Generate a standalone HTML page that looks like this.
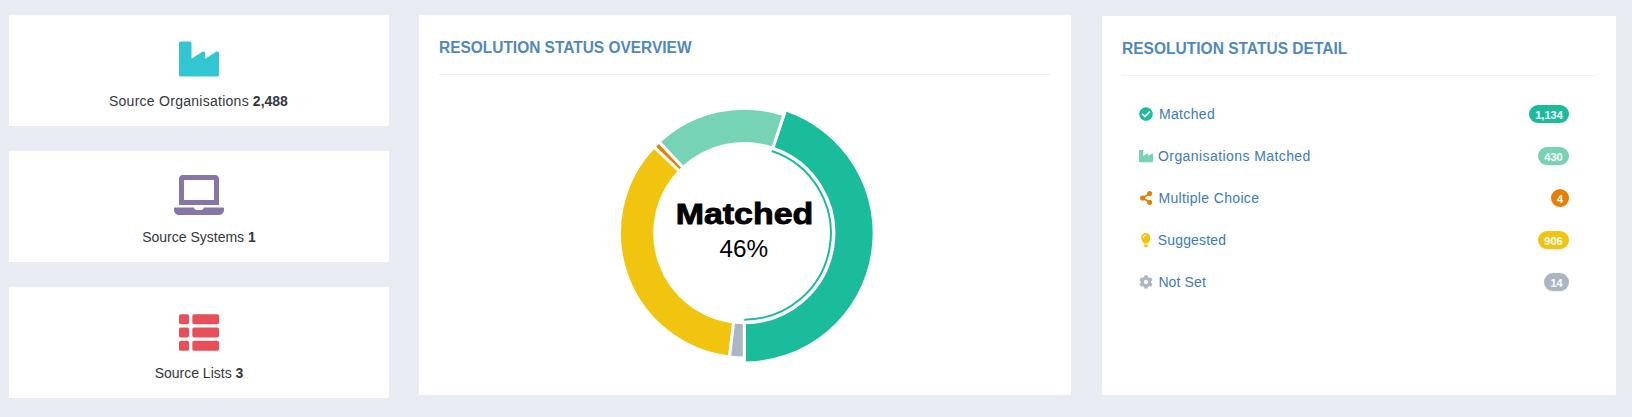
<!DOCTYPE html>
<html lang="en">
<head>
<meta charset="utf-8">
<title>Resolution Status</title>
<style>
html,body{margin:0;padding:0;}
body{width:1632px;height:417px;overflow:hidden;background:#e9ecf3;position:relative;
  font-family:"Liberation Sans",sans-serif;font-size:14px;color:#333;}
.card,.panel{position:absolute;background:#fff;}
.card{left:9px;width:380px;height:111px;}
.card .lbl{position:absolute;left:0;width:380px;top:76px;text-align:center;line-height:20px;font-size:14px;color:#34383c;white-space:nowrap;}
.card .lbl span{display:inline-block;}
.card .lbl b{font-weight:700;}
.card svg{position:absolute;}
.ttl{position:absolute;font-weight:700;font-size:16px;line-height:18px;color:#4f89bc;white-space:nowrap;transform-origin:0 50%;}
.hr{position:absolute;height:1px;background:#eef1f5;}
.row{position:absolute;left:1139px;width:430px;height:20px;line-height:20px;color:#3b7bbd;white-space:nowrap;}
.row svg{position:absolute;left:0;top:3px;}
.row .t{position:absolute;left:20px;top:0;}
.badge{position:absolute;right:0;top:1px;height:18px;line-height:20px;box-shadow:0 1px 1px rgba(120,90,90,0.12);border-radius:9px;color:#fff;font-size:11px;font-weight:700;text-align:center;}
#chart{position:absolute;left:0;top:0;}
</style>
</head>
<body>

<div class="card" style="top:15px">
  <svg style="left:170px;top:24px" width="40" height="40" viewBox="0 0 512 512"><path fill="#32c5d2" d="M475.115 163.781L336 252.309v-68.28c0-18.916-20.931-30.399-36.885-20.248L160 252.309V56c0-13.255-10.745-24-24-24H24C10.745 32 0 42.745 0 56v400c0 13.255 10.745 24 24 24h464c13.255 0 24-10.745 24-24V184.029c0-18.917-20.931-30.399-36.885-20.248z"/></svg>
  <div class="lbl" style="left:-0.6px"><span style="letter-spacing:0.27px">Source Organisations</span> <b>2,488</b></div>
</div>

<div class="card" style="top:151px">
  <svg style="left:165px;top:24px" width="50" height="40" viewBox="0 0 640 512"><path fill="#8775a7" d="M624 416H381.54c-.74 19.81-14.71 32-32.74 32H288c-18.69 0-33.02-17.47-32.77-32H16c-8.8 0-16 7.2-16 16v16c0 35.2 28.8 64 64 64h512c35.2 0 64-28.800 64-64v-16c0-8.800-7.200-16-16-16zM576 48c0-26.400-21.600-48-48-48H112C85.600 0 64 21.600 64 48v336h512V48zm-64 272H128V64h384v256z"/></svg>
  <div class="lbl"><span>Source Systems</span> <b>1</b></div>
</div>

<div class="card" style="top:287px">
  <svg style="left:170px;top:27px" width="40" height="37" viewBox="0 0 1200 1100"><g fill="#e7505a">
    <rect x="0" y="0" width="300" height="300" rx="50"/><rect x="400" y="0" width="800" height="300" rx="50"/>
    <rect x="0" y="400" width="300" height="300" rx="50"/><rect x="400" y="400" width="800" height="300" rx="50"/>
    <rect x="0" y="800" width="300" height="300" rx="50"/><rect x="400" y="800" width="800" height="300" rx="50"/>
  </g></svg>
  <div class="lbl"><span>Source Lists</span> <b>3</b></div>
</div>

<div class="panel" style="left:419px;top:15px;width:652px;height:380px"></div>
<div class="ttl" style="left:439px;top:39px;transform:scaleX(0.966)" id="t1">RESOLUTION STATUS OVERVIEW</div>
<div class="hr" style="left:439px;top:74px;width:612px;background:#eeeeee"></div>

<svg id="chart" width="1632" height="417" viewBox="0 0 1632 417">
<path d="M744.30,319.68A86.58,86.58,0,0,0,771.77,150.99" fill="none" stroke="#1BBC9B" stroke-width="2"/>
<path d="M744.30,322.68A89.58,89.58,0,0,0,772.72,148.15L785.51,109.94A129.87,129.87,0,0,1,744.30,362.97Z" fill="#1BBC9B" stroke="#ffffff" stroke-width="3"/>
<path d="M772.72,148.15A89.58,89.58,0,0,0,683.09,167.69L658.98,141.92A124.87,124.87,0,0,1,783.92,114.68Z" fill="#77D3B5" stroke="#ffffff" stroke-width="3"/>
<path d="M683.09,167.69A89.58,89.58,0,0,0,679.48,171.27L653.95,146.91A124.87,124.87,0,0,1,658.98,141.92Z" fill="#E87E04" stroke="#ffffff" stroke-width="3"/>
<path d="M679.48,171.27A89.58,89.58,0,0,0,733.66,322.05L729.47,357.09A124.87,124.87,0,0,1,653.95,146.91Z" fill="#F1C40F" stroke="#ffffff" stroke-width="3"/>
<path d="M733.66,322.05A89.58,89.58,0,0,0,744.27,322.68L744.26,357.97A124.87,124.87,0,0,1,729.47,357.09Z" fill="#ACB5C3" stroke="#ffffff" stroke-width="3"/>
<text id="c1" x="744.5" y="223.7" text-anchor="middle" font-family="Liberation Sans, sans-serif" font-weight="700" font-size="30.2" fill="#000" stroke="#000" stroke-width="0.9" textLength="137.6" lengthAdjust="spacingAndGlyphs">Matched</text>
<text id="c2" x="743.7" y="257.1" text-anchor="middle" font-family="Liberation Sans, sans-serif" font-size="24.3" fill="#000">46%</text>
</svg>

<div class="panel" style="left:1102px;top:16px;width:514px;height:379px"></div>
<div class="ttl" style="left:1122.4px;top:40px;transform:scaleX(0.971)" id="t2">RESOLUTION STATUS DETAIL</div>
<div class="hr" style="left:1122px;top:75px;width:474px"></div>

<div class="row" style="top:104px">
  <svg width="14" height="14" viewBox="0 0 512 512"><path fill="#1BBC9B" d="M504 256c0 136.967-111.033 248-248 248S8 392.967 8 256 119.033 8 256 8s248 111.033 248 248zM227.314 387.314l184-184c6.248-6.248 6.248-16.379 0-22.627l-22.627-22.627c-6.248-6.249-16.379-6.249-22.628 0L216 308.118l-70.059-70.059c-6.248-6.248-16.379-6.248-22.628 0l-22.627 22.627c-6.248 6.248-6.248 16.379 0 22.627l104 104c6.249 6.249 16.379 6.249 22.628.001z"/></svg>
  <span class="t" style="left:20px;letter-spacing:0.33px">Matched</span><span class="badge" style="width:40px;background:#1BBC9B">1,134</span>
</div>
<div class="row" style="top:146px">
  <svg width="14" height="14" viewBox="0 0 512 512"><path fill="#77D3B5" d="M475.115 163.781L336 252.309v-68.28c0-18.916-20.931-30.399-36.885-20.248L160 252.309V56c0-13.255-10.745-24-24-24H24C10.745 32 0 42.745 0 56v400c0 13.255 10.745 24 24 24h464c13.255 0 24-10.745 24-24V184.029c0-18.917-20.931-30.399-36.885-20.248z"/></svg>
  <span class="t" style="left:19px;letter-spacing:0.42px">Organisations Matched</span><span class="badge" style="width:31px;background:#77D3B5">430</span>
</div>
<div class="row" style="top:188px">
  <svg style="left:0.9px" width="12.25" height="14" viewBox="0 0 448 512"><path fill="#E87E04" d="M352 320c-22.608 0-43.387 7.819-59.79 20.895l-102.486-64.054a96.551 96.551 0 0 0 0-41.683l102.486-64.054C308.613 184.181 329.392 192 352 192c53.019 0 96-42.981 96-96S405.019 0 352 0s-96 42.981-96 96c0 7.158.79 14.13 2.276 20.841L155.790 180.895C139.387 167.819 118.608 160 96 160c-53.019 0-96 42.981-96 96s42.981 96 96 96c22.608 0 43.387-7.819 59.790-20.895l102.486 64.054A96.301 96.301 0 0 0 256 416c0 53.019 42.981 96 96 96s96-42.981 96-96-42.981-96-96-96z"/></svg>
  <span class="t" style="left:19.4px;letter-spacing:0.35px">Multiple Choice</span><span class="badge" style="width:18px;background:#E87E04">4</span>
</div>
<div class="row" style="top:230px">
  <svg style="left:1.8px" width="9.625" height="14" viewBox="0 0 352 512"><path fill="#F1C40F" d="M96.060 454.350c.010 6.290 1.870 12.450 5.360 17.690l17.090 25.690a31.990 31.990 0 0 0 26.640 14.280h61.710a31.990 31.990 0 0 0 26.640-14.280l17.090-25.690a31.989 31.989 0 0 0 5.360-17.690l.040-38.350H96.010l.050 38.350zM0 176c0 44.370 16.450 84.850 43.560 115.780 16.520 18.850 42.360 58.230 52.210 91.450.040.260.070.520.110.780h160.240c.040-.260.070-.510.110-.780 9.850-33.220 35.690-72.600 52.210-91.450C335.550 260.850 352 220.370 352 176 352 78.610 272.910-.3 175.450 0 73.440.31 0 82.970 0 176zm176-80c-44.110 0-80 35.890-80 80 0 8.840-7.160 16-16 16s-16-7.160-16-16c0-61.760 50.240-112 112-112 8.840 0 16 7.160 16 16s-7.160 16-16 16z"/></svg>
  <span class="t" style="left:18.8px;letter-spacing:0.15px">Suggested</span><span class="badge" style="width:31px;background:#F1C40F">906</span>
</div>
<div class="row" style="top:272px">
  <svg width="14" height="14" viewBox="0 0 512 512"><path fill="#ACB5C3" d="M487.400 315.700l-42.600-24.600c4.300-23.200 4.300-47 0-70.200l42.600-24.600c4.900-2.800 7.100-8.600 5.500-14-11.100-35.600-30-67.800-54.700-94.600-3.800-4.100-10-5.100-14.800-2.300L380.800 110c-17.900-15.400-38.500-27.300-60.800-35.100V25.800c0-5.600-3.900-10.500-9.400-11.700-36.700-8.200-74.300-7.800-109.200 0-5.500 1.200-9.400 6.100-9.400 11.700V75c-22.200 7.900-42.800 19.800-60.800 35.100L88.700 85.500c-4.900-2.800-11-1.900-14.800 2.300-24.700 26.700-43.600 58.900-54.700 94.600-1.700 5.400.6 11.200 5.500 14L67.300 221c-4.300 23.200-4.300 47 0 70.200l-42.600 24.600c-4.900 2.800-7.100 8.600-5.500 14 11.100 35.600 30 67.800 54.700 94.600 3.800 4.100 10 5.100 14.800 2.300l42.600-24.600c17.900 15.400 38.500 27.300 60.800 35.100v49.200c0 5.600 3.900 10.500 9.400 11.700 36.700 8.200 74.300 7.800 109.200 0 5.500-1.200 9.400-6.100 9.400-11.700v-49.200c22.200-7.900 42.800-19.800 60.800-35.100l42.600 24.600c4.900 2.800 11 1.900 14.800-2.300 24.700-26.700 43.600-58.900 54.700-94.600 1.500-5.500-.7-11.300-5.600-14.100zM256 336c-44.100 0-80-35.900-80-80s35.900-80 80-80 80 35.900 80 80-35.900 80-80 80z"/></svg>
  <span class="t" style="left:19.4px;letter-spacing:0.12px">Not Set</span><span class="badge" style="width:25px;background:#ACB5C3">14</span>
</div>

</body>
</html>
